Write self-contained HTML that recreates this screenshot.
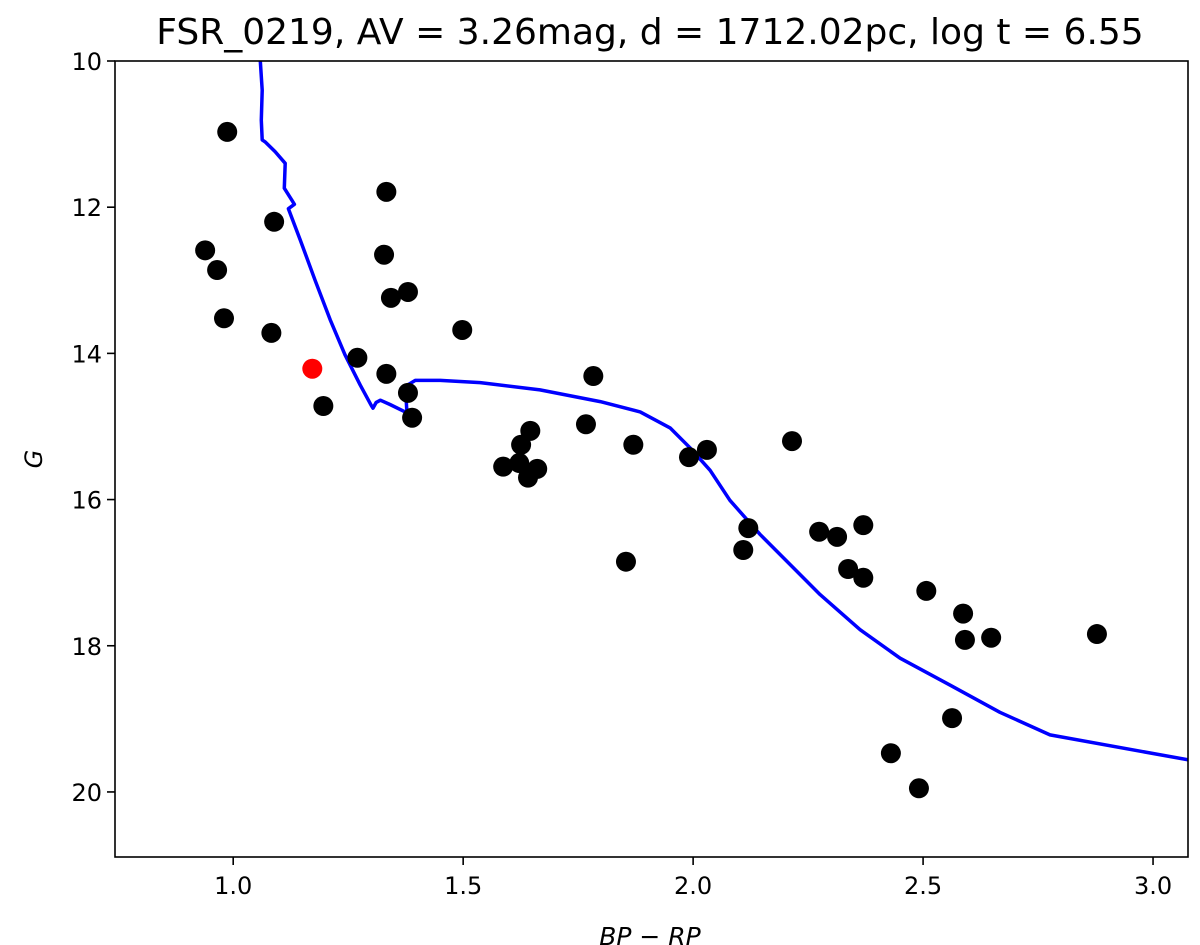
<!DOCTYPE html>
<html><head><meta charset="utf-8"><style>
body{margin:0;background:#fff;}
svg{display:block;font-family:"DejaVu Sans","Liberation Sans",sans-serif;}
</style></head><body>
<svg id="chart" width="1200" height="945"></svg>
<script>
const xTicks=[1.0,1.5,2.0,2.5,3.0];
const yTicks=[10,12,14,16,18,20];
const starColor=[0.987,1.089,0.939,0.965,0.980,1.083,1.333,1.328,1.343,1.380,1.498,1.270,1.333,1.380,1.389,1.196,1.783,1.767,1.646,1.626,1.587,1.622,1.661,1.641,1.870,1.991,2.030,2.215,1.854,2.120,2.109,2.274,2.313,2.370,2.337,2.370,2.507,2.587,2.591,2.648,2.878,2.563,2.430,2.491];
const starMag=[10.97,12.20,12.59,12.86,13.52,13.72,11.79,12.65,13.24,13.16,13.68,14.06,14.28,14.54,14.88,14.72,14.31,14.97,15.06,15.25,15.55,15.50,15.58,15.70,15.25,15.42,15.32,15.20,16.85,16.39,16.69,16.44,16.51,16.35,16.95,17.07,17.25,17.56,17.92,17.89,17.84,18.99,19.47,19.95];
const targetColor=[1.172];
const targetMag=[14.21];
const isoColor=[1.059,1.063,1.061,1.063,1.070,1.091,1.113,1.111,1.128,1.133,1.120,1.146,1.178,1.211,1.243,1.276,1.300,1.304,1.311,1.320,1.341,1.374,1.378,1.376,1.380,1.396,1.450,1.537,1.667,1.798,1.885,1.950,1.993,2.037,2.080,2.146,2.211,2.276,2.363,2.450,2.559,2.667,2.776,3.076];
const isoMag=[10.00,10.40,10.81,11.08,11.11,11.24,11.40,11.74,11.91,11.96,12.02,12.45,13.00,13.54,14.02,14.43,14.71,14.75,14.67,14.64,14.70,14.80,14.86,14.61,14.43,14.37,14.37,14.40,14.50,14.66,14.80,15.02,15.29,15.60,16.01,16.48,16.89,17.30,17.78,18.17,18.54,18.91,19.22,19.56];

const L=115,R=1188,T=61,B=857,xmin=0.743,xmax=3.076,ymin=10,ymax=20.89;
const sx=v=>L+(v-xmin)/(xmax-xmin)*(R-L);
const sy=v=>T+(v-ymin)/(ymax-ymin)*(B-T);
const NS="http://www.w3.org/2000/svg";
const svg=document.getElementById('chart');
function mk(tag,attrs,parent){const e=document.createElementNS(NS,tag);for(const k in attrs)e.setAttribute(k,attrs[k]);(parent||svg).appendChild(e);return e;}
const clip=mk('clipPath',{id:'pc'});mk('rect',{x:L,y:T,width:R-L,height:B-T},clip);

xTicks.forEach(v=>{const x=sx(v);
 const t=mk('line',{x1:x,x2:x,y1:B,y2:B+8,stroke:'#000','stroke-width':1.6});
 
 
 const l=mk('text',{x:x,y:B+37,'font-size':24,'text-anchor':'middle'});l.textContent=v.toFixed(1);
 
 
});
yTicks.forEach(v=>{const y=sy(v);
 const t=mk('line',{x1:L-8,x2:L,y1:y,y2:y,stroke:'#000','stroke-width':1.6});
 
 
 const l=mk('text',{x:L-13,y:y+9,'font-size':24,'text-anchor':'end'});l.textContent=v;
 
 
});

const g=mk('g',{'clip-path':'url(#pc)'});
let d='';isoColor.forEach((c,i)=>{d+=(i?'L':'M')+sx(c).toFixed(1)+','+sy(isoMag[i]).toFixed(1);});
const iso=mk('path',{d:d,fill:'none',stroke:'#0000ff','stroke-width':3.5,'stroke-linejoin':'round'},g);


starColor.forEach((c,i)=>{
 const p=mk('circle',{cx:sx(c),cy:sy(starMag[i]),r:10,fill:'#000'},g);
 
 
});
targetColor.forEach((c,i)=>{
 const p=mk('circle',{cx:sx(c),cy:sy(targetMag[i]),r:10,fill:'#ff0000'},g);
 
 
});
const fr=mk('rect',{x:L,y:T,width:R-L,height:B-T,fill:'none',stroke:'#000','stroke-width':1.6});


const ti=mk('text',{x:650,y:44,'font-size':36,'text-anchor':'middle'});
ti.textContent='FSR_0219, AV = 3.26mag, d = 1712.02pc, log t = 6.55';


const xl=mk('text',{x:650,y:945,'font-size':25,'text-anchor':'middle','font-style':'italic'});
xl.textContent='BP − RP';


const yl=mk('text',{x:42,y:459,'font-size':24,'text-anchor':'middle','font-style':'italic',transform:'rotate(-90 42 459)'});
yl.textContent='G';


</script>
</body></html>
